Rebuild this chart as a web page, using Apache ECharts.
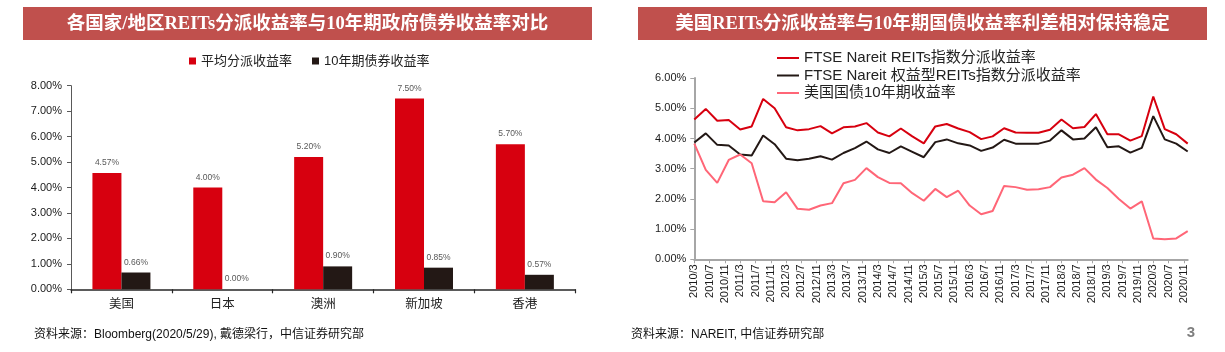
<!DOCTYPE html>
<html><head><meta charset="utf-8">
<script src="https://cdn.jsdelivr.net/npm/echarts@6/dist/echarts.min.js"></script>
<style>html,body{margin:0;padding:0;background:#fff}#c{width:1225px;height:352px}</style>
</head><body><div id="c"></div>
<script>
// ---- Left chart data ----
const barCategories = ['美国', '日本', '澳洲', '新加坡', '香港'];
const distYield = [4.57, 4.00, 5.20, 7.50, 5.70];
const bondYield = [0.66, 0.00, 0.90, 0.85, 0.57];

// ---- Right chart data (quarterly) ----
const quarterDates = ['2010/3','2010/6','2010/9','2010/12','2011/3','2011/6','2011/9','2011/12',
  '2012/3','2012/6','2012/9','2012/12','2013/3','2013/6','2013/9','2013/12',
  '2014/3','2014/6','2014/9','2014/12','2015/3','2015/6','2015/9','2015/12',
  '2016/3','2016/6','2016/9','2016/12','2017/3','2017/6','2017/9','2017/12',
  '2018/3','2018/6','2018/9','2018/12','2019/3','2019/6','2019/9','2019/12',
  '2020/3','2020/6','2020/9','2020/12'];
const reitsYield = [4.63,4.98,4.59,4.61,4.30,4.40,5.31,5.00,4.37,4.27,
  4.31,4.41,4.17,4.37,4.40,4.51,4.20,4.07,4.33,4.07,
  3.84,4.40,4.48,4.33,4.21,3.98,4.07,4.34,4.20,4.19,
  4.19,4.29,4.63,4.34,4.38,4.81,4.14,4.14,3.93,4.08,
  5.39,4.31,4.14,3.83];
const equityReitsYield = [3.87,4.17,3.79,3.77,3.47,3.44,4.10,3.81,3.33,3.28,
  3.33,3.41,3.30,3.52,3.68,3.90,3.64,3.52,3.74,3.56,
  3.38,3.88,3.97,3.84,3.77,3.59,3.70,3.96,3.83,3.83,
  3.83,3.93,4.27,3.97,4.00,4.37,3.71,3.74,3.53,3.69,
  4.74,3.97,3.83,3.57];
const treasury10y = [3.83,2.96,2.53,3.29,3.47,3.18,1.92,1.89,2.22,1.67,
  1.64,1.78,1.86,2.52,2.63,3.02,2.72,2.53,2.52,2.19,
  1.94,2.33,2.06,2.27,1.78,1.49,1.60,2.43,2.39,2.30,
  2.32,2.39,2.71,2.80,3.02,2.64,2.36,2.00,1.68,1.92,
  0.69,0.66,0.69,0.93];
const xTickLabels = ['2010/3','2010/7','2010/11','2011/3','2011/7','2011/11','2012/3','2012/7','2012/11',
  '2013/3','2013/7','2013/11','2014/3','2014/7','2014/11','2015/3','2015/7','2015/11',
  '2016/3','2016/7','2016/11','2017/3','2017/7','2017/11','2018/3','2018/7','2018/11',
  '2019/3','2019/7','2019/11','2020/3','2020/7','2020/11'];
const lineNames = ['FTSE Nareit REITs指数分派收益率', 'FTSE Nareit 权益型REITs指数分派收益率', '美国国债10年期收益率'];

// month offset from 2010/3
function monthIdx(s) { const p = s.split('/'); return (+p[0] - 2010) * 12 + (+p[1]) - 3; }
const xMonths = quarterDates.map(monthIdx);
const pair = arr => arr.map((v, i) => [xMonths[i], v]);

const CJK = '"Liberation Sans","Noto Sans CJK SC",sans-serif';
const TITLE_FONT = 'bold 18.5px "Liberation Serif","Noto Sans CJK SC",serif';

const chart = echarts.init(document.getElementById('c'), null, {renderer: 'canvas'});
const pct = v => v.toFixed(2) + '%';

chart.setOption({
  animation: false,
  backgroundColor: '#fff',
  grid: [
    {left: 71, top: 85.7, width: 504.3, height: 203.6, outerBoundsMode: 'none'},
    {left: 694.3, top: 78.1, width: 493.4, height: 181.2, outerBoundsMode: 'none'}
  ],
  legend: [
    {
      data: ['平均分派收益率', '10年期债券收益率'],
      left: 189, top: 54.5, padding: 0,
      icon: 'rect', itemWidth: 7, itemHeight: 7, itemGap: 20,
      textStyle: {fontSize: 13, color: '#222', fontFamily: CJK}
    },
    {
      data: lineNames,
      orient: 'vertical', left: 777, top: 50.5, padding: 0,
      icon: 'rect', itemWidth: 22, itemHeight: 2, itemGap: 2.5,
      textStyle: {fontSize: 15, color: '#222', fontFamily: CJK}
    }
  ],
  xAxis: [
    {
      type: 'category', gridIndex: 0, data: barCategories,
      axisLine: {lineStyle: {color: '#262626', width: 1.5}},
      axisTick: {show: true, alignWithLabel: false, length: 4, lineStyle: {color: '#262626', width: 1.2}},
      axisLabel: {fontSize: 12.5, color: '#222', margin: 9, fontFamily: CJK}
    },
    {
      type: 'value', gridIndex: 1, min: 0, max: 129, interval: 4,
      axisLine: {show: true, lineStyle: {color: '#A6A6A6', width: 2}},
      axisTick: {show: true, length: 4, lineStyle: {color: '#A6A6A6', width: 1}},
      splitLine: {show: false},
      axisLabel: {
        rotate: 90, fontSize: 11, color: '#1a1a1a', margin: 5, fontFamily: CJK,
        showMaxLabel: false,
        formatter: v => (v % 4 === 0 && xTickLabels[v / 4]) ? xTickLabels[v / 4] : ''
      }
    }
  ],
  yAxis: [
    {
      type: 'value', gridIndex: 0, min: 0, max: 8, interval: 1,
      axisLine: {show: true, lineStyle: {color: '#595959', width: 1}},
      axisTick: {show: true, length: 4, lineStyle: {color: '#595959'}},
      splitLine: {show: false},
      axisLabel: {fontSize: 11, color: '#1a1a1a', margin: 9, fontFamily: CJK, formatter: pct}
    },
    {
      type: 'value', gridIndex: 1, min: 0, max: 6, interval: 1,
      axisLine: {show: true, lineStyle: {color: '#A6A6A6', width: 2}},
      axisTick: {show: true, length: 4, lineStyle: {color: '#A6A6A6'}},
      splitLine: {show: false},
      axisLabel: {fontSize: 11, color: '#1a1a1a', margin: 8, fontFamily: CJK, formatter: pct}
    }
  ],
  series: [
    {
      name: '平均分派收益率', type: 'bar', xAxisIndex: 0, yAxisIndex: 0,
      data: distYield, barWidth: 29, barGap: '0%',
      itemStyle: {color: '#D7000F'},
      label: {show: true, position: 'top', distance: 6, fontSize: 8.5, color: '#595959', fontFamily: CJK,
        formatter: p => pct(p.value)}
    },
    {
      name: '10年期债券收益率', type: 'bar', xAxisIndex: 0, yAxisIndex: 0,
      data: bondYield, barWidth: 29, barGap: '0%',
      itemStyle: {color: '#231815'},
      label: {show: true, position: 'top', distance: 6, fontSize: 8.5, color: '#595959', fontFamily: CJK,
        formatter: p => pct(p.value)}
    },
    {
      name: lineNames[0], type: 'line', xAxisIndex: 1, yAxisIndex: 1,
      data: pair(reitsYield), showSymbol: false, symbol: 'none',
      lineStyle: {color: '#D7000F', width: 2}, itemStyle: {color: '#D7000F'}
    },
    {
      name: lineNames[1], type: 'line', xAxisIndex: 1, yAxisIndex: 1,
      data: pair(equityReitsYield), showSymbol: false, symbol: 'none',
      lineStyle: {color: '#231815', width: 2}, itemStyle: {color: '#231815'}
    },
    {
      name: lineNames[2], type: 'line', xAxisIndex: 1, yAxisIndex: 1,
      data: pair(treasury10y), showSymbol: false, symbol: 'none',
      lineStyle: {color: '#FF6677', width: 2}, itemStyle: {color: '#FF6677'}
    }
  ],
  graphic: [
    {type: 'rect', shape: {x: 23, y: 7, width: 569, height: 33}, style: {fill: '#C0504D'}, silent: true},
    {type: 'text', x: 307.5, y: 24, silent: true, style: {
      text: '各国家/地区REITs分派收益率与10年期政府债券收益率对比', fill: '#fff', font: TITLE_FONT,
      textAlign: 'center', textVerticalAlign: 'middle', verticalAlign: 'middle'}},
    {type: 'rect', shape: {x: 638, y: 7, width: 569, height: 33}, style: {fill: '#C0504D'}, silent: true},
    {type: 'text', x: 922.5, y: 24, silent: true, style: {
      text: '美国REITs分派收益率与10年期国债收益率利差相对保持稳定', fill: '#fff', font: TITLE_FONT,
      textAlign: 'center', textVerticalAlign: 'middle', verticalAlign: 'middle'}},
    {type: 'text', x: 34, y: 335, silent: true, style: {
      text: '资料来源：Bloomberg(2020/5/29), 戴德梁行，中信证券研究部', fill: '#111',
      font: '12px "Liberation Sans","Noto Sans CJK SC",sans-serif', textVerticalAlign: 'middle', verticalAlign: 'middle'}},
    {type: 'text', x: 631, y: 335, silent: true, style: {
      text: '资料来源：NAREIT, 中信证券研究部', fill: '#111',
      font: '12px "Liberation Sans","Noto Sans CJK SC",sans-serif', textVerticalAlign: 'middle', verticalAlign: 'middle'}},
    {type: 'text', x: 1191, y: 333, silent: true, style: {
      text: '3', fill: '#7f7f7f', font: 'bold 15px "Liberation Sans",sans-serif',
      textAlign: 'center', textVerticalAlign: 'middle', verticalAlign: 'middle'}}
  ]
});
</script>
</body></html>
